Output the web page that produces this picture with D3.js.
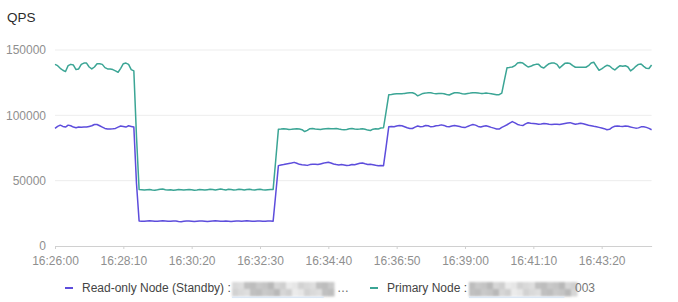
<!DOCTYPE html>
<html>
<head>
<meta charset="utf-8">
<script src="https://cdnjs.cloudflare.com/ajax/libs/d3/7.8.5/d3.min.js"></script>
<style>
  body { margin: 0; background: #fff; }
  svg { display: block; font-family: "Liberation Sans", Arial, Helvetica, sans-serif; }
</style>
</head>
<body>
<svg width="678" height="302"></svg>
<script>
var startTime = "16:26:00";
var stepSeconds = 5;
var tickLabels = ["16:26:00", "16:28:10", "16:30:20", "16:32:30", "16:34:40",
                  "16:36:50", "16:39:00", "16:41:10", "16:43:20"];
var yTicks = [0, 50000, 100000, 150000];
var seriesNames = ["Read-only Node (Standby) :", "Primary Node :"];

// QPS in thousands, one value every 5 s
var standbyQps = [
  90, 91.5, 92.5, 91.5, 91, 92.5, 92, 91, 90.5, 91,
  90.8, 91, 91, 91.5, 92, 93, 93, 92, 91, 90,
  89.5, 89.5, 89.7, 90, 91, 91.8, 91.5, 91, 92, 91.5, 91,
  48,
  19.2, 19.0, 18.9, 19.1, 19.3, 19.1, 18.9, 19.0, 19.2, 19.3,
  19.1, 18.9, 19.0, 19.2, 19.1, 18.8, 18.6, 18.9, 19.1, 19.2,
  19.0, 18.8, 19.0, 19.2, 19.1, 18.9, 18.7, 18.9, 19.1, 19.3,
  19.1, 18.9, 19.0, 19.2, 19.0, 18.8, 19.0, 19.2, 19.1, 18.9,
  19.1, 19.3, 19.1, 18.9, 19.0, 19.2, 19.1, 18.9, 19.0, 19.2,
  19.1, 19.0, 40,
  61.5, 62, 62.3, 62.8, 63.2, 63.5, 64, 63.3, 62.5, 62.2,
  62, 61.7, 62.3, 62.6, 62.5, 62.3, 62.8, 63.3, 63.8, 64.1,
  63.5, 62.8, 62.3, 62, 62.3, 62, 61.6, 61.8, 62.4, 62.2,
  62.8, 63.4, 63.5, 62.9, 62.4, 62.5, 62.2, 61.8, 61.5, 61.6,
  61.5, 76,
  91.3, 91.5, 91.2, 91.8, 92.2, 92, 91.3, 90.5, 90, 89.9,
  91, 91.8, 91.2, 91.5, 92.2, 92, 91.2, 91.5, 92, 92.3,
  92.7, 92.3, 91.5, 91.3, 91.8, 92.2, 91.8, 91.4, 90.8, 90.6,
  91.5, 92.3, 93, 92.5, 91.5, 91, 91.6, 92, 91.5, 90.8,
  90.2, 89.6, 89.5, 90.8, 91.8,
  92.8, 94, 95.2, 94.2, 93, 92.5, 92.2, 93.5, 94.3, 94,
  93.8, 93.6, 93.2, 93.4, 93.8, 93.5, 93.2, 93, 93.2, 93.2,
  93, 93.4, 93.8, 94.2, 94.4, 93.8, 93.2, 93.5, 94, 93.6,
  93, 92.4, 92, 91.6, 91.3, 90.8, 90.3, 89.8, 89, 89.3,
  90.8, 91.6, 91.8, 91.6, 91.5, 91.8, 91.6, 91, 90.6, 90.2,
  90.4, 91.2, 91.3, 90.8, 90, 89
];
var primaryQps = [
  139, 138, 136, 134.5, 133.5, 138, 139, 138.5, 135, 135.5,
  139, 140, 140, 137, 135.5, 137, 139.5, 139.5, 139, 136.5,
  135.5, 135.5, 135, 134, 133, 136, 139.5, 140, 139, 135, 134,
  84,
  43.2, 43.0, 42.8, 43.1, 43.3, 42.9, 42.7, 43.0, 43.4, 43.6,
  43.1, 42.8, 43.0, 42.6, 42.9, 43.2, 43.0, 42.8, 43.1, 43.3,
  43.0, 42.7, 42.9, 43.2, 43.0, 42.8, 43.1, 43.4, 43.2, 42.9,
  43.3, 43.6, 43.2, 42.9, 43.4, 43.2, 42.9, 43.1, 43.5, 43.2,
  42.8, 43.3, 43.5, 43.1, 42.9, 43.2, 43.4, 43.0, 42.8, 43.1,
  43.2, 43.3, 66,
  89.3, 89.5, 89.8, 89.6, 89.2, 89.3, 89.6, 89.7, 89.5, 89,
  87.6, 88.5, 89.8, 90, 89.6, 89.4, 89.2, 89.5, 89.8, 90,
  89.8, 89.8, 89.9, 89.5, 89.2, 89, 89.2, 89.7, 90, 89.6,
  89.3, 89.5, 89.8, 89.3, 88.7, 88.4, 89.4, 89.8, 89.6, 90.3,
  90.5, 103,
  115.8, 116, 116.3, 116.5, 116.6, 116.5, 116.8, 117, 117.2, 117.3,
  116.5, 114.9, 115.8, 116.8, 117, 117.3, 117.2, 116.8, 116.5, 116.7,
  116.8, 116.5, 115.9, 115.6, 116.5, 117.3, 117.2, 117, 116.6, 116.3,
  116.7, 117, 117.2, 117.3, 117.1, 116.8, 116.8, 117.1, 116.8, 116.5,
  116.2, 115.7, 115.8, 117, 127,
  136.5, 136.7, 137, 138, 140, 140.5, 140, 138.5, 137, 137.5,
  138.5, 139, 139, 137, 136.2, 138, 139.5, 140, 140, 139,
  136.2, 138, 139.8, 140, 139.6, 138, 136.8, 136.8, 136.8, 136.8,
  136.8, 138, 140, 140.6, 137.5, 134.5, 135.5, 137, 138.3, 137.8,
  136, 134.7, 136.5, 138, 137.5, 138, 137, 134, 135.5, 137.5,
  139, 139.3, 137.5, 136, 135.8, 138.5
];
var colors = ["#5d4ddc", "#3ba595"];
var mosaicShades = ["#d9d9d9", "#c4c4c4", "#e6e6e6", "#bdbdbd", "#cfcfcf", "#dedede",
                    "#b8b8b8", "#d2d2d2", "#c9c9c9", "#ebebeb", "#c0c0c0", "#d6d6d6"];

var svg = d3.select("svg");
var parse = d3.timeParse("%H:%M:%S");
var t0 = parse(startTime);
var times = standbyQps.map(function(d, i) { return new Date(+t0 + i * stepSeconds * 1000); });

var plotLeft = 55, plotRight = 651.6, plotTop = 50, plotBottom = 246;
var x = d3.scaleTime().domain(d3.extent(times)).range([plotLeft, plotRight]);
var y = d3.scaleLinear().domain([0, 150000]).range([plotBottom, plotTop]);

// title
svg.append("text")
    .attr("x", 7).attr("y", 22)
    .style("font-size", "13.5px").style("fill", "#2b2b2b")
    .text("QPS");

// grid
svg.append("g").selectAll("line")
    .data(yTicks.filter(function(d) { return d > 0; }))
    .enter().append("line")
    .attr("x1", plotLeft).attr("x2", plotRight)
    .attr("y1", function(d) { return y(d); })
    .attr("y2", function(d) { return y(d); })
    .style("stroke", "#ededed");

// y labels
var yAxis = svg.append("g")
    .attr("transform", "translate(49,0)")
    .call(d3.axisLeft(y).tickValues(yTicks).tickFormat(d3.format("d")).tickSize(0).tickPadding(3));
yAxis.select(".domain").remove();
yAxis.selectAll("text").style("font-size", "12px").style("fill", "#8f8f8f")
    .style("font-family", "Liberation Sans, Arial, sans-serif");

// x axis
var xAxis = svg.append("g")
    .attr("transform", "translate(0," + plotBottom + ")")
    .call(d3.axisBottom(x)
      .tickValues(tickLabels.map(parse))
      .tickFormat(d3.timeFormat("%H:%M:%S"))
      .tickSize(3).tickPadding(7).tickSizeOuter(0));
xAxis.select(".domain").style("stroke", "#d0d0d0");
xAxis.selectAll(".tick line").style("stroke", "#d0d0d0");
xAxis.selectAll("text").style("font-size", "12px").style("fill", "#8f8f8f")
    .style("font-family", "Liberation Sans, Arial, sans-serif");

// lines
var line = d3.line()
    .x(function(d, i) { return x(times[i]); })
    .y(function(d) { return y(d * 1000); });

[standbyQps, primaryQps].forEach(function(series, k) {
  svg.append("path")
      .datum(series)
      .attr("d", line)
      .style("fill", "none")
      .style("stroke", colors[k])
      .style("stroke-width", 1.5)
      .style("stroke-linejoin", "round");
});

// legend
var defs = svg.append("defs");
defs.append("filter").attr("id", "blur")
    .attr("x", "-5%").attr("y", "-20%").attr("width", "110%").attr("height", "140%")
  .append("feGaussianBlur").attr("stdDeviation", 1.1);

function mosaic(x0, x1, seed) {
  var g = svg.append("g").attr("filter", "url(#blur)");
  var cells = d3.range(x0, x1, 6);
  [0, 1].forEach(function(row) {
    g.selectAll(null)
        .data(cells)
        .enter().append("rect")
        .attr("x", function(d) { return d; })
        .attr("y", 282 + row * 7)
        .attr("width", 6.5)
        .attr("height", 7.5)
        .style("fill", function(d, i) {
          return mosaicShades[(i * 5 + row * 7 + seed) % mosaicShades.length];
        });
  });
  svg.append("rect")
      .attr("x", x0).attr("y", 296.5)
      .attr("width", (x1 - x0) * 0.9).attr("height", 1.5)
      .style("fill", "#dbe7f5");
}

var legendX = [65, 370];
seriesNames.forEach(function(name, k) {
  svg.append("line")
      .attr("x1", legendX[k]).attr("x2", legendX[k] + 8)
      .attr("y1", 288).attr("y2", 288)
      .style("stroke", colors[k]).style("stroke-width", 2);
  svg.append("text")
      .attr("x", legendX[k] + 17).attr("y", 292)
      .style("font-size", "12px").style("fill", "#444")
      .text(name);
});
mosaic(232, 334, 0);
svg.append("text").attr("x", 337).attr("y", 292)
    .style("font-size", "12px").style("fill", "#666").text("\u2026");
mosaic(469, 575, 3);
svg.append("text").attr("x", 575).attr("y", 292)
    .style("font-size", "12px").style("fill", "#777").text("003");
</script>
</body>
</html>
